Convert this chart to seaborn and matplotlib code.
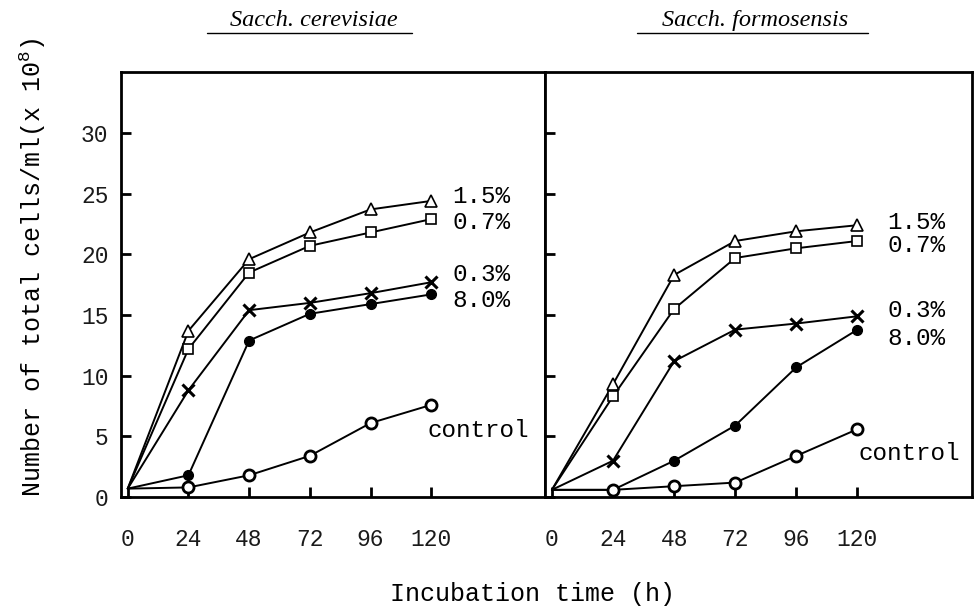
import numpy as np
import pandas as pd
import matplotlib
matplotlib.use("Agg")
import matplotlib.pyplot as plt
from matplotlib.lines import Line2D
import seaborn as sns

# ---- data ----
hours = [0, 24, 48, 72, 96, 120]
series_labels = ["1.5%", "0.7%", "0.3%", "8.0%", "control"]

cerevisiae_15 = [0.7, 13.7, 19.6, 21.8, 23.7, 24.4]
cerevisiae_07 = [0.7, 12.2, 18.5, 20.7, 21.8, 22.9]
cerevisiae_03 = [0.7, 8.8, 15.4, 16.0, 16.8, 17.7]
cerevisiae_80 = [0.7, 1.8, 12.9, 15.1, 15.9, 16.7]
cerevisiae_ctl = [0.7, 0.8, 1.8, 3.4, 6.1, 7.6]

formosensis_15 = [0.6, 9.3, 18.3, 21.1, 21.9, 22.4]
formosensis_07 = [0.6, 8.3, 15.5, 19.7, 20.5, 21.1]
formosensis_03 = [0.6, 3.0, 11.2, 13.8, 14.3, 14.9]
formosensis_80 = [0.6, 0.6, 3.0, 5.9, 10.7, 13.8]
formosensis_ctl = [0.6, 0.6, 0.9, 1.2, 3.4, 5.6]

panel_titles = ["Sacch. cerevisiae", "Sacch. formosensis"]
x_ticks = [0, 24, 48, 72, 96, 120]
y_ticks = [0, 5, 10, 15, 20, 25, 30]

# label placement (text anchors, data units)
label_x_left = [128.5, 128.5, 128.5, 128.5, 118.6]
label_y_left = [24.8, 22.6, 18.3, 16.2, 5.5]
label_x_right = [131.8, 131.8, 131.8, 131.8, 120.4]
label_y_right = [22.6, 20.7, 15.4, 13.1, 3.6]

sns.set_theme(style="white")
plt.rcParams["font.family"] = ["Liberation Mono", "DejaVu Sans Mono"]
plt.rcParams["mathtext.fontset"] = "custom"
plt.rcParams["mathtext.rm"] = "Liberation Mono"

fig = plt.figure(figsize=(9.75, 6.07), dpi=100)
fig.patch.set_facecolor("white")
ax1 = fig.add_axes([0.124, 0.181, 0.435, 0.700])
ax2 = fig.add_axes([0.559, 0.181, 0.438, 0.700])

styles = [
    dict(marker="^", markersize=8, markerfacecolor="white", markeredgewidth=1.2),
    dict(marker="s", markersize=6.5, markerfacecolor="white", markeredgewidth=1.2),
    dict(marker="x", markersize=8, markeredgewidth=2.2),
    dict(marker="o", markersize=7, markerfacecolor="black", markeredgewidth=1.0),
    dict(marker="o", markersize=8, markerfacecolor="white", markeredgewidth=2.0),
]

panels = [
    (ax1, [cerevisiae_15, cerevisiae_07, cerevisiae_03, cerevisiae_80, cerevisiae_ctl],
     label_x_left, label_y_left),
    (ax2, [formosensis_15, formosensis_07, formosensis_03, formosensis_80, formosensis_ctl],
     label_x_right, label_y_right),
]

for i, (ax, ser, lx, ly) in enumerate(panels):
    for vals, st, lab, tx, ty in zip(ser, styles, series_labels, lx, ly):
        df = pd.DataFrame({"h": hours, "v": vals})
        sns.lineplot(data=df, x="h", y="v", ax=ax, color="black", linewidth=1.4,
                     markeredgecolor="black", markevery=slice(1, None), **st)
        ax.text(tx, ty, lab, fontsize=17.5, va="center", ha="left", color="black")
    ax.set_xlim(-2.7, 165)
    ax.set_ylim(0, 35)
    ax.set_xticks(x_ticks)
    ax.set_yticks(y_ticks)
    ax.set_xlabel("")
    ax.set_ylabel("")
    ax.tick_params(axis="both", direction="in", length=7, width=2, color="black",
                   labelsize=16.5, labelcolor="#1a1a1a")
    ax.tick_params(axis="x", pad=22)
    ax.tick_params(axis="y", pad=9)
    ax.tick_params(left=True, bottom=True)
    for s in ax.spines.values():
        s.set_visible(True)
        s.set_linewidth(2)
        s.set_color("black")
    ax.set_facecolor("white")
    ax.grid(False)

ax2.set_yticklabels([])

# panel titles (italic serif) with underline
title_x = [0.322, 0.774]
underline = [(0.212, 0.423), (0.653, 0.890)]
for t, tx, (u0, u1) in zip(panel_titles, title_x, underline):
    fig.text(tx, 0.966, t, fontsize=17.5, style="italic", family="Liberation Serif",
             ha="center", va="center", color="black")
    fig.add_artist(Line2D([u0, u1], [0.945, 0.945], color="black", linewidth=1.0))

fig.text(0.034, 0.560, r"Number of total cells/ml(x 10$^{\mathregular{8}}$)",
         rotation=90, fontsize=18, ha="center", va="center", color="black")
fig.text(0.546, 0.022, "Incubation time (h)", fontsize=18, ha="center", va="center",
         color="black")

fig.savefig("out.png", dpi=100, facecolor="white")
